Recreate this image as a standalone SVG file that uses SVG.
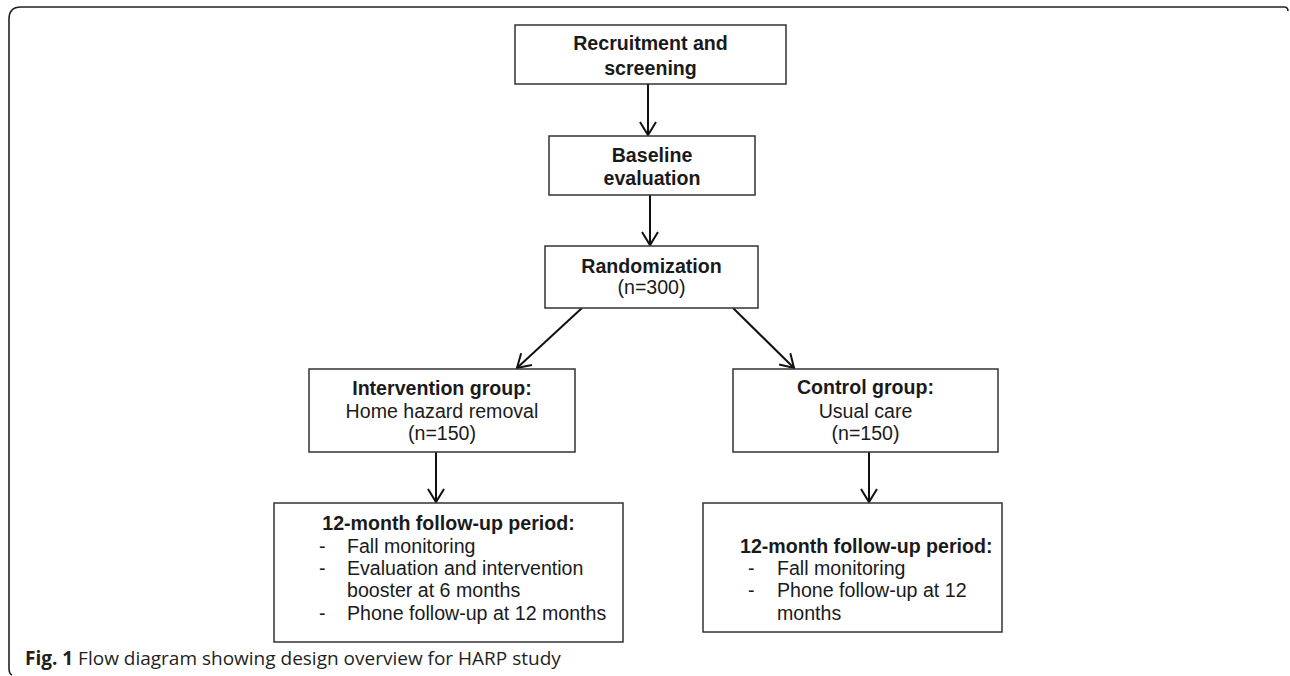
<svg xmlns="http://www.w3.org/2000/svg" width="1290" height="676" viewBox="0 0 1290 676">
<defs>
<style>
.box{fill:#fff;stroke:#333;stroke-width:1.5}
.t{font-family:"Liberation Sans",Arial,sans-serif;font-size:19.6px;fill:#1a1a1a}
.b{font-weight:bold}
.c{text-anchor:middle}
.edge{stroke:#111;stroke-width:2;fill:none;marker-end:url(#ah)}
.cap{font-family:"Open Sans",sans-serif;font-size:19px;fill:#231f20}
</style>
<marker id="ah" markerUnits="userSpaceOnUse" viewBox="-15 -10 17 20" refX="0" refY="0" markerWidth="17" markerHeight="20" orient="auto">
<path d="M -13 -8 L 0 0 L -13 8" fill="none" stroke="#111" stroke-width="2"/>
</marker>
</defs>
<rect width="1290" height="676" fill="#fff"/>
<path d="M 12 675 Q 9 674 9 668 L 9 19 Q 9 7 21 7 L 1284 7 Q 1288 7 1288 11" fill="none" stroke="#222" stroke-width="1.6"/>
<g id="connectors">
<line class="edge" x1="648" y1="84" x2="648" y2="135"/>
<line class="edge" x1="650" y1="195" x2="650" y2="245"/>
<line class="edge" x1="582" y1="308" x2="517" y2="368"/>
<line class="edge" x1="733" y1="308" x2="794" y2="368"/>
<line class="edge" x1="436" y1="452" x2="436" y2="502"/>
<line class="edge" x1="869" y1="452" x2="869" y2="502"/>
</g>
<g id="recruitment">
<rect class="box" x="515" y="25" width="271" height="59"/>
<text class="t b c" x="650.5" y="50">Recruitment and</text>
<text class="t b c" x="650.5" y="75">screening</text>
</g>
<g id="baseline">
<rect class="box" x="549" y="136" width="206" height="59"/>
<text class="t b c" x="652" y="162">Baseline</text>
<text class="t b c" x="652" y="185">evaluation</text>
</g>
<g id="randomization">
<rect class="box" x="545" y="246" width="213" height="62"/>
<text class="t b c" x="651.5" y="273">Randomization</text>
<text class="t c" x="651.5" y="294">(n=300)</text>
</g>
<g id="intervention">
<rect class="box" x="309" y="369" width="266" height="83"/>
<text class="t b c" x="442" y="395">Intervention group:</text>
<text class="t c" x="442" y="418">Home hazard removal</text>
<text class="t c" x="442" y="440">(n=150)</text>
</g>
<g id="control">
<rect class="box" x="733" y="369" width="265" height="83"/>
<text class="t b c" x="865.5" y="394">Control group:</text>
<text class="t c" x="865.5" y="418">Usual care</text>
<text class="t c" x="865.5" y="440">(n=150)</text>
</g>
<g id="followup-intervention">
<rect class="box" x="274" y="503" width="349" height="139"/>
<text class="t b c" x="448.5" y="530">12-month follow-up period:</text>
<text class="t" x="319" y="553">-</text><text class="t" x="347" y="553">Fall monitoring</text>
<text class="t" x="319" y="575">-</text><text class="t" x="347" y="575">Evaluation and intervention</text>
<text class="t" x="347" y="597">booster at 6 months</text>
<text class="t" x="319" y="620">-</text><text class="t" x="347" y="620">Phone follow-up at 12 months</text>
</g>
<g id="followup-control">
<rect class="box" x="703" y="503" width="299" height="129"/>
<text class="t b" x="740" y="553">12-month follow-up period:</text>
<text class="t" x="748" y="575">-</text><text class="t" x="777" y="575">Fall monitoring</text>
<text class="t" x="748" y="597">-</text><text class="t" x="777" y="597">Phone follow-up at 12</text>
<text class="t" x="777" y="620">months</text>
</g>
<text class="cap" x="25" y="665"><tspan font-weight="bold">Fig. 1</tspan> Flow diagram showing design overview for HARP study</text>
</svg>
